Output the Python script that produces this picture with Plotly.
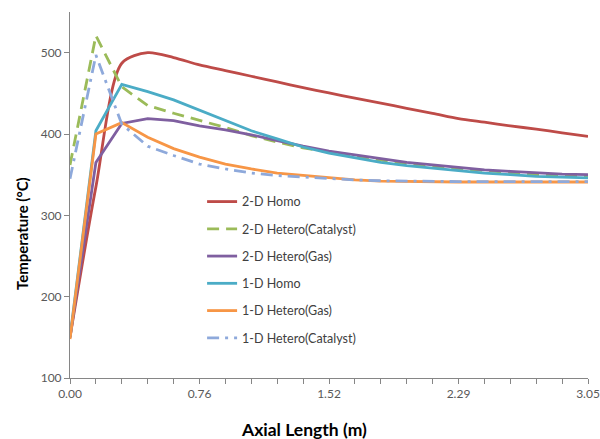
import plotly.graph_objects as go

x_vals = [0, 0.1525, 0.305, 0.4575, 0.61, 0.7625, 0.915, 1.0675, 1.22, 1.3725, 1.525,
          1.6775, 1.83, 1.9825, 2.135, 2.2875, 2.44, 2.5925, 2.745, 2.8975, 3.05]

homo_2d = [150, 335, 487, 500, 494, 485, 478, 471, 464, 457, 450.5, 444, 438, 431.5, 425.5,
           419, 414.5, 410, 406, 401.5, 397]
hetero_cat_2d = [362, 521, 458, 435, 425.5, 416.5, 408, 398, 390, 383, 378, 373, 367.5, 363,
                 360, 357.5, 355, 352, 350, 349, 348]
hetero_gas_2d = [150, 365, 413, 419, 416.5, 410, 405, 399, 392, 385, 379, 374.5, 369.5, 365,
                 362, 359, 356, 354, 352, 350.7, 350]
homo_1d = [150, 404, 461, 452, 442, 429, 417, 404, 394, 384, 376.5, 371, 365, 361, 358, 355,
           352, 350, 348, 347, 346]
hetero_gas_1d = [148, 400, 414, 396, 382, 371.5, 363, 357, 352, 349, 346, 343.6, 342, 341.5,
                 341, 341, 341, 341, 341, 341, 341]
hetero_cat_1d = [345, 497, 412, 385, 373.6, 363, 357, 352, 349, 347, 345.5, 343.5, 342.5, 342,
                 341.5, 341.5, 341.5, 341.5, 341.5, 341.5, 341.5]

series_names = ["2-D Homo", "2-D Hetero(Catalyst)", "2-D Hetero(Gas)", "1-D Homo",
                "1-D Hetero(Gas)", "1-D Hetero(Catalyst)"]
x_tickvals = [0, 0.7625, 1.525, 2.2875, 3.05]
x_ticktext = ["0.00", "0.76", "1.52", "2.29", "3.05"]
y_tickvals = [100, 200, 300, 400, 500]
x_title = "Axial Length (m)"
y_title = "Temperature (°C)"

series = [homo_2d, hetero_cat_2d, hetero_gas_2d, homo_1d, hetero_gas_1d, hetero_cat_1d]
colors = ["#BE4B48", "#9BBB59", "#7F5FA0", "#4BACC6", "#F79646", "#8EA9DB"]
dashes = ["solid", "12px,7px", "solid", "solid", "solid", "12px,6px,3px,6px"]
shapes = ["spline", "linear", "linear", "linear", "linear", "linear"]

fig = go.Figure()
for i, (name, ys) in enumerate(zip(series_names, series)):
    fig.add_trace(go.Scatter(
        x=x_vals, y=ys, name=name, mode="lines", legendgroup=f"g{i}",
        line=dict(color=colors[i], width=2.8, dash=dashes[i], shape=shapes[i],
                  smoothing=0.8 if shapes[i] == "spline" else None),
    ))

font_family = "Lato, Open Sans, sans-serif"
axis_font = dict(family=font_family, size=12, color="#595959")
fig.update_layout(
    width=600, height=439,
    margin=dict(l=70, r=12, t=12, b=61),
    plot_bgcolor="white", paper_bgcolor="white",
    showlegend=True,
    legend=dict(x=0.255, y=0.522, xanchor="left", yanchor="top",
                font=dict(family=font_family, size=12.5, color="#404040"),
                tracegroupgap=8, bgcolor="rgba(0,0,0,0)"),
    xaxis=dict(range=[0, 3.05], tickvals=x_tickvals, ticktext=x_ticktext,
               showgrid=False, zeroline=False, showline=True, linecolor="#868686",
               linewidth=1, ticks="outside", ticklen=5, tickcolor="#868686",
               tickfont=axis_font, automargin=False,
               minor=dict(dtick=0.1525, tick0=0, ticks="outside", ticklen=5,
                          tickcolor="#868686", showgrid=False)),
    yaxis=dict(range=[100, 550], tickvals=y_tickvals, showgrid=False, zeroline=False,
               showline=True, linecolor="#868686", linewidth=1, ticks="outside",
               ticklen=5, tickcolor="#868686", tickfont=axis_font, automargin=False),
    annotations=[
        dict(text=f"<b>{x_title}</b>", xref="paper", yref="paper", x=0.452, y=-0.142,
             xanchor="center", yanchor="middle", showarrow=False,
             font=dict(family=font_family, size=17.5, color="#000000")),
        dict(text=f"<b>{y_title}</b>", xref="paper", yref="paper", x=-0.0927, y=0.396,
             xanchor="center", yanchor="middle", showarrow=False, textangle=-90,
             font=dict(family=font_family, size=15, color="#000000")),
    ],
)

fig.write_html("out.html")
